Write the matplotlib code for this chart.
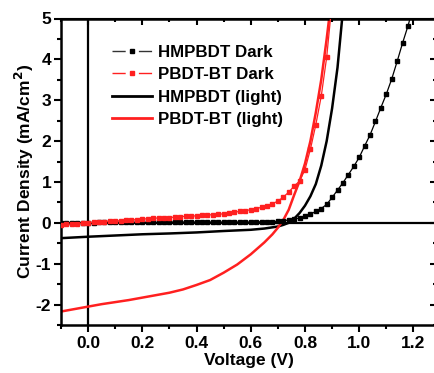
import matplotlib
matplotlib.use("Agg")
import matplotlib.pyplot as plt
from matplotlib.ticker import MultipleLocator
from matplotlib.lines import Line2D

plt.rcParams['font.family'] = ['Liberation Sans', 'DejaVu Sans']
plt.rcParams['font.weight'] = 'bold'
plt.rcParams['mathtext.default'] = 'bf'
plt.rcParams['axes.unicode_minus'] = False

# ---- data ----
v_dark = [-0.10, -0.08, -0.06, -0.04, -0.02, 0.00, 0.02, 0.04, 0.06, 0.08,
          0.10, 0.12, 0.14, 0.16, 0.18, 0.20, 0.22, 0.24, 0.26, 0.28,
          0.30, 0.32, 0.34, 0.36, 0.38, 0.40, 0.42, 0.44, 0.46, 0.48,
          0.50, 0.52, 0.54, 0.56, 0.58, 0.60, 0.62, 0.64, 0.66, 0.68,
          0.70, 0.72, 0.74, 0.76, 0.78, 0.80, 0.82, 0.84, 0.86, 0.88,
          0.90, 0.92, 0.94, 0.96, 0.98, 1.00, 1.02, 1.04, 1.06, 1.08,
          1.10, 1.12, 1.14, 1.16, 1.18, 1.20]
hm_dark = [0.00, 0.00, 0.00, 0.00, 0.00, 0.00, 0.00, 0.01, 0.01, 0.01,
           0.01, 0.01, 0.01, 0.01, 0.01, 0.01, 0.01, 0.01, 0.01, 0.01,
           0.02, 0.02, 0.02, 0.02, 0.02, 0.02, 0.02, 0.02, 0.02, 0.02,
           0.02, 0.02, 0.02, 0.02, 0.02, 0.02, 0.02, 0.03, 0.03, 0.03,
           0.04, 0.05, 0.07, 0.09, 0.12, 0.16, 0.21, 0.28, 0.35, 0.45,
           0.62, 0.80, 0.98, 1.18, 1.38, 1.60, 1.88, 2.15, 2.48, 2.82,
           3.15, 3.52, 3.95, 4.40, 4.82, 5.30]
v_dark_pb = v_dark[:51]
pb_dark = [-0.05, -0.04, -0.03, -0.02, -0.01, 0.00, 0.01, 0.02, 0.03, 0.04,
           0.045, 0.05, 0.06, 0.07, 0.08, 0.09, 0.10, 0.11, 0.12, 0.125,
           0.13, 0.14, 0.15, 0.16, 0.165, 0.17, 0.18, 0.19, 0.20, 0.21,
           0.22, 0.24, 0.26, 0.28, 0.30, 0.32, 0.35, 0.38, 0.42, 0.47,
           0.53, 0.63, 0.75, 0.90, 1.02, 1.30, 1.80, 2.40, 3.10, 4.05,
           5.40]

v_light_hm = [-0.10, 0.00, 0.10, 0.20, 0.30, 0.40, 0.50, 0.60, 0.65, 0.70,
              0.72, 0.74, 0.76, 0.78, 0.80, 0.82, 0.84, 0.86, 0.88, 0.90,
              0.92, 0.94]
hm_light = [-0.375, -0.34, -0.31, -0.28, -0.26, -0.235, -0.20, -0.17, -0.14, -0.09,
            -0.05, 0.00, 0.10, 0.24, 0.42, 0.65, 0.95, 1.40, 2.00, 2.80,
            3.80, 5.20]
v_light_pb = [-0.10, -0.05, 0.00, 0.05, 0.10, 0.15, 0.20, 0.25, 0.30, 0.35,
              0.40, 0.45, 0.50, 0.55, 0.60, 0.65, 0.68, 0.70, 0.72, 0.74,
              0.76, 0.78, 0.80, 0.82, 0.84, 0.86, 0.88, 0.90]
pb_light = [-2.17, -2.11, -2.05, -1.99, -1.94, -1.89, -1.83, -1.77, -1.71, -1.63,
            -1.52, -1.40, -1.22, -1.02, -0.77, -0.48, -0.28, -0.12, 0.07, 0.32,
            0.68, 1.02, 1.45, 2.00, 2.70, 3.50, 4.50, 5.60]

labels = ['HMPBDT Dark', 'PBDT-BT Dark', 'HMPBDT (light)', 'PBDT-BT (light)']
RED = '#ff2020'

W, H = 435, 373
fig = plt.figure(figsize=(W / 100, H / 100), dpi=100)
left, right, top, bottom = 61, 437, 18.5, 325
ax = fig.add_axes([left / W, (H - bottom) / H, (right - left) / W, (bottom - top) / H])

ax.axhline(0, color='black', lw=1.6, zorder=1)
ax.axvline(0, color='black', lw=1.6, zorder=1)

ax.plot(v_light_hm, hm_light, color='black', lw=1.8, zorder=2)
ax.plot(v_light_pb, pb_light, color=RED, lw=1.8, zorder=2)
ax.plot(v_dark, hm_dark, color='black', lw=0.9, ls='-', marker='s', ms=2.5, zorder=3)
ax.plot(v_dark_pb, pb_dark, color=RED, lw=0.9, ls='-', marker='s', ms=2.7, zorder=3)

ax.set_xlim(-0.1, 1.287)
ax.set_ylim(-2.5, 5)
ax.xaxis.set_minor_locator(MultipleLocator(0.1))
ax.yaxis.set_major_locator(MultipleLocator(1))
ax.yaxis.set_minor_locator(MultipleLocator(0.5))
ax.set_xticks([0.0, 0.2, 0.4, 0.6, 0.8, 1.0, 1.2])
ax.set_xticklabels(['0.0', '0.2', '0.4', '0.6', '0.8', '1.0', '1.2'])

for s in ax.spines.values():
    s.set_linewidth(1.8)

ax.tick_params(which='both', direction='out', width=1.5, labelsize=12.5,
               top=False, right=False)
ax.tick_params(which='major', length=5)
ax.tick_params(which='minor', length=3)
ax.tick_params(axis='x', pad=3)
ax.tick_params(axis='y', pad=2)

# mirrored inward ticks on top and right
axt = ax.secondary_xaxis('top')
axt.xaxis.set_major_locator(MultipleLocator(0.2))
axt.xaxis.set_minor_locator(MultipleLocator(0.1))
axt.tick_params(which='both', direction='in', width=1.5, labeltop=False)
axt.tick_params(which='major', length=5)
axt.tick_params(which='minor', length=3)
axr = ax.secondary_yaxis('right')
axr.yaxis.set_major_locator(MultipleLocator(1))
axr.yaxis.set_minor_locator(MultipleLocator(0.5))
axr.tick_params(which='both', direction='in', width=1.5, labelright=False)
axr.tick_params(which='major', length=5)
axr.tick_params(which='minor', length=3)

for lab in ax.get_xticklabels() + ax.get_yticklabels():
    lab.set_fontweight('bold')

ax.set_xlabel('Voltage (V)', fontsize=12.5, fontweight='bold', labelpad=1)
ax.set_ylabel('Current Density (mA/cm$^2$)', fontsize=12.5, fontweight='bold', labelpad=0)

dash = (0, (9.5, 9.5))
handles = [
    Line2D([], [], color='#333333', lw=1.0, ls=dash, marker='s', ms=2.6,
           markerfacecolor='black', markeredgecolor='black'),
    Line2D([], [], color=RED, lw=1.0, ls=dash, marker='s', ms=2.6),
    Line2D([], [], color='black', lw=2.0),
    Line2D([], [], color=RED, lw=2.0),
]
leg = ax.legend(handles, labels, loc='upper left', bbox_to_anchor=(0.135, 0.915),
                frameon=False, fontsize=12.2, handlelength=2.35, handletextpad=0.35,
                labelspacing=0.45, borderpad=0, borderaxespad=0)
for t in leg.get_texts():
    t.set_fontweight('bold')

fig.savefig('out.png', dpi=100)
